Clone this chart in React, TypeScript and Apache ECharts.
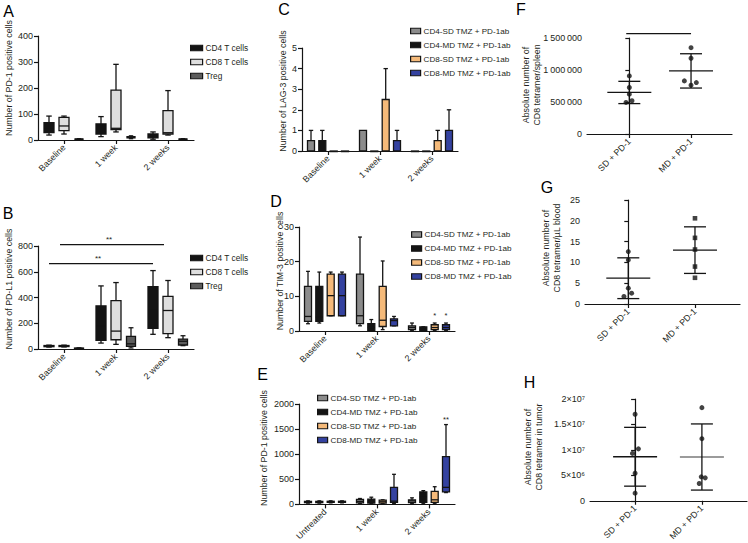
import React, { useEffect, useRef } from 'react';
import * as echarts from 'echarts';

const FONT = '"Liberation Sans", Arial, Helvetica, sans-serif';

// ---------- categories ----------
const timeCats = ['Baseline', '1 week', '2 weeks'];
const timeCatsE = ['Untreated', '1 week', '2 weeks'];
const groupCats = ['SD + PD-1', 'MD + PD-1'];

// ---------- series names ----------
const cellNames = ['CD4 T cells', 'CD8 T cells', 'Treg'];
const trtNames = ['CD4-SD TMZ + PD-1ab', 'CD4-MD TMZ + PD-1ab', 'CD8-SD TMZ + PD-1ab', 'CD8-MD TMZ + PD-1ab'];

// ---------- Panel A: boxes [cat, min, q1, median, q3, max] ----------
const aCD4 = [[0, 19, 28, 45, 67, 92], [1, 13, 23, 40, 62, 90], [2, 3, 8, 15, 23, 31]];
const aCD8 = [[0, 23, 36, 54, 87, 92], [1, 31, 40, 45, 192, 291], [2, 19, 23, 28, 113, 190]];
const aTreg = [[0, 1, 2, 3, 4, 5], [1, 5, 8, 10, 13, 16], [2, 1, 2, 3, 4, 5]];

// ---------- Panel B ----------
const bCD4 = [[0, 15, 18, 22, 27, 30], [1, 46, 67, 180, 335, 490], [2, 114, 160, 300, 485, 609]];
const bCD8 = [[0, 16, 19, 23, 27, 30], [1, 36, 72, 139, 376, 516], [2, 88, 119, 299, 408, 532]];
const bTreg = [[0, 2, 3, 5, 7, 9], [1, 8, 21, 40, 98, 165], [2, 26, 31, 60, 77, 103]];
const bSig = [[0, 2, 810], [0, 2, 663]];
const bSigLabels = ['**', '**'];

// ---------- Panel C: bars [cat, mean, mean+sd] ----------
const cCD4SD = [[0, 0.5, 1], [1, 1, 1], [2, 0, 0]];
const cCD4MD = [[0, 0.5, 1], [1, 0, 0], [2, 0, 0]];
const cCD8SD = [[0, 0, 0], [1, 2.5, 4], [2, 0.5, 1]];
const cCD8MD = [[0, 0, 0], [1, 0.5, 1], [2, 1, 2]];

// ---------- Panel D ----------
const dCD4SD = [[0, 2.1, 2.8, 4.2, 12.9, 17.2], [1, 1.5, 2.1, 4.4, 16.4, 27.1], [2, 0.2, 0.4, 1.0, 1.5, 2.3]];
const dCD4MD = [[0, 2.3, 2.8, 4.0, 12.9, 17], [1, 0, 0.1, 1, 2.1, 3.3], [2, 0.1, 0.2, 0.5, 1.2, 1.2]];
const dCD8SD = [[0, 4.4, 4.4, 10.2, 16.4, 17], [1, 0.4, 1.3, 3.1, 12.9, 20.2], [2, 0.2, 0.4, 1, 1.8, 2.3]];
const dCD8MD = [[0, 4.4, 4.4, 10.2, 16.4, 17], [1, 1.5, 1.5, 3, 3.5, 4.2], [2, 0.2, 0.4, 1, 1.8, 2.3]];
const dStars = [[2, 4.6, 2], [2, 4.6, 3]]; // [cat, y, series slot]

// ---------- Panel E ----------
const eCD4SD = [[0, 25, 35, 50, 60, 70], [1, 15, 30, 60, 100, 117], [2, 13, 33, 70, 91, 130]];
const eCD4MD = [[0, 25, 35, 50, 60, 70], [1, 13, 26, 60, 104, 143], [2, 13, 39, 150, 248, 274]];
const eCD8SD = [[0, 30, 40, 50, 62, 70], [1, 13, 26, 52, 85, 91], [2, 13, 39, 91, 261, 352]];
const eCD8MD = [[0, 30, 40, 50, 62, 70], [1, 20, 39, 65, 339, 599], [2, 235, 248, 339, 951, 1590]];
const eStars = [[2, 1700, 3]];

// ---------- Panel F (x jitter around group position) ----------
const fSDx = [0, 0, 0, -0.054, 0.043];
const fSDy = [908000, 727000, 623000, 493000, 519000];
const fMDx = [0, 0, -0.108, 0.086, 0];
const fMDy = [1349000, 1183000, 830000, 804000, 763000];
const fMean = [649000, 986000];
const fSd = [174000, 268000];
const fSig = [[-0.05, 1, 1568000]];

// ---------- Panel G ----------
const gSDx = [0, 0, 0, 0.05, -0.065];
const gSDy = [12.6, 10.6, 3.8, 2.6, 1.8];
const gMDx = [0, 0, 0, 0, 0];
const gMDy = [20.6, 15.9, 13.1, 9.0, 6.3];
const gMean = [6.2, 12.95];
const gSd = [4.9, 5.6];

// ---------- Panel H ----------
const hSDx = [0, 0.05, -0.04, 0, 0];
const hSDy = [17.0e6, 10.2e6, 9.3e6, 5.4e6, 1.5e6];
const hMDx = [0, 0, -0.01, 0.05, -0.04];
const hMDy = [18.3e6, 12.2e6, 4.7e6, 4.5e6, 3.4e6];
const hMean = [8.65e6, 8.6e6];
const hSd = [5.78e6, 6.5e6];
const hTickLabels = ['0', '5\u00d710\u2076', '1\u00d710\u2077', '1.5\u00d710\u2077', '2\u00d710\u2077'];

// ---------- colours ----------
const cellColors = ['#141414', '#dedede', '#5c5c5c'];
const trtColors = ['#8c8c8c', '#141414', '#f5ba7a', '#3442a0'];
const INK = '#141414';
const TXT = '#231f20';

const lineStyle = { stroke: INK, lineWidth: 1.3 };

function boxSeries(name: string, data: number[][], ai: number, color: string, offset: number, bw: number) {
  return {
    type: 'custom', name, xAxisIndex: ai, yAxisIndex: ai, data,
    encode: { x: 0, y: [1, 2, 3, 4, 5] },
    itemStyle: { color, borderColor: INK, borderWidth: 1.2 },
    renderItem: (params: any, api: any) => {
      const c = api.value(0);
      const x = api.coord([c, 0])[0] + offset;
      const y = (i: number) => api.coord([c, api.value(i)])[1];
      const yMin = y(1), yQ1 = y(2), yMed = y(3), yQ3 = y(4), yMax = y(5);
      const cap = bw * 0.55;
      return {
        type: 'group', children: [
          { type: 'line', shape: { x1: x, y1: yMax, x2: x, y2: yMin }, style: lineStyle },
          { type: 'line', shape: { x1: x - cap / 2, y1: yMax, x2: x + cap / 2, y2: yMax }, style: lineStyle },
          { type: 'line', shape: { x1: x - cap / 2, y1: yMin, x2: x + cap / 2, y2: yMin }, style: lineStyle },
          { type: 'rect', shape: { x: x - bw / 2, y: yQ3, width: bw, height: Math.max(yQ1 - yQ3, 0.6) }, style: { fill: color, stroke: INK, lineWidth: 1.3 } },
          { type: 'line', shape: { x1: x - bw / 2, y1: yMed, x2: x + bw / 2, y2: yMed }, style: lineStyle },
        ],
      };
    },
  };
}

function barSeries(name: string, data: number[][], ai: number, color: string, offset: number, bw: number) {
  return {
    type: 'custom', name, xAxisIndex: ai, yAxisIndex: ai, data,
    encode: { x: 0, y: [1, 2] },
    itemStyle: { color, borderColor: INK, borderWidth: 1.2 },
    renderItem: (params: any, api: any) => {
      const c = api.value(0);
      const base = api.coord([c, 0]);
      const x = base[0] + offset;
      const y0 = base[1];
      const ym = api.coord([c, api.value(1)])[1];
      const ye = api.coord([c, api.value(2)])[1];
      const children: any[] = [];
      if (ye < ym - 0.5) {
        children.push({ type: 'line', shape: { x1: x, y1: ym, x2: x, y2: ye }, style: lineStyle });
        children.push({ type: 'line', shape: { x1: x - 2.2, y1: ye, x2: x + 2.2, y2: ye }, style: lineStyle });
      }
      children.push({ type: 'rect', shape: { x: x - bw / 2, y: ym, width: bw, height: Math.max(y0 - ym, 0.6) }, style: { fill: color, stroke: INK, lineWidth: 1.3 } });
      return { type: 'group', children };
    },
  };
}

function meanSdSeries(means: number[], sds: number[], ai: number, colors: string[]) {
  return {
    type: 'custom', xAxisIndex: ai, yAxisIndex: ai, silent: true,
    data: means.map((m, i) => [i, m, sds[i]]),
    encode: { x: 0, y: 1 },
    renderItem: (params: any, api: any) => {
      const xv = api.value(0), m = api.value(1), s = api.value(2);
      const pm = api.coord([xv, m]);
      const yt = api.coord([xv, m + s])[1];
      const yb = api.coord([xv, m - s])[1];
      const x = pm[0];
      const mw = 22, cw = 11;
      const st = { stroke: colors[params.dataIndex] || INK, lineWidth: 1.3 };
      return {
        type: 'group', children: [
          { type: 'line', shape: { x1: x - mw, y1: pm[1], x2: x + mw, y2: pm[1] }, style: st },
          { type: 'line', shape: { x1: x, y1: yt, x2: x, y2: yb }, style: lineStyle },
          { type: 'line', shape: { x1: x - cw, y1: yt, x2: x + cw, y2: yt }, style: lineStyle },
          { type: 'line', shape: { x1: x - cw, y1: yb, x2: x + cw, y2: yb }, style: lineStyle },
        ],
      };
    },
  };
}

function scatterSeries(group: number, jitter: number[], ys: number[], ai: number, symbol: string) {
  return {
    type: 'scatter', xAxisIndex: ai, yAxisIndex: ai, symbol, symbolSize: symbol === 'rect' ? 4.6 : 5,
    itemStyle: { color: INK }, silent: true,
    data: jitter.map((j, i) => [group + j, ys[i]]),
  };
}

function sigLineSeries(data: number[][], labels: string[], ai: number, offsets: number[]) {
  return {
    type: 'custom', xAxisIndex: ai, yAxisIndex: ai, silent: true, data,
    encode: { x: [0, 1], y: 2 },
    renderItem: (params: any, api: any) => {
      const i = params.dataIndex;
      const p1 = api.coord([api.value(0), api.value(2)]);
      const p2 = api.coord([api.value(1), api.value(2)]);
      const off = offsets[i] || 0;
      const x1 = p1[0] + off, x2 = p2[0] + off;
      const children: any[] = [
        { type: 'line', shape: { x1, y1: p1[1], x2, y2: p1[1] }, style: { stroke: INK, lineWidth: 1.3 } },
      ];
      if (labels[i]) {
        children.push({ type: 'text', x: (x1 + x2) / 2 - 3, y: p1[1] - 1, style: { text: labels[i], fill: TXT, fontSize: 8, fontFamily: FONT, align: 'center', verticalAlign: 'bottom' } });
      }
      return { type: 'group', children };
    },
  };
}

function starSeries(data: number[][], label: string, ai: number, slotOffsets: number[]) {
  return {
    type: 'custom', xAxisIndex: ai, yAxisIndex: ai, silent: true, data,
    encode: { x: 0, y: 1 },
    renderItem: (params: any, api: any) => {
      const p = api.coord([api.value(0), api.value(1)]);
      const x = p[0] + slotOffsets[api.value(2)];
      return { type: 'text', x, y: p[1], style: { text: label, fill: TXT, fontSize: 7.5, fontFamily: FONT, align: 'center', verticalAlign: 'middle' } };
    },
  };
}

const axisLineCfg = { show: true, lineStyle: { color: INK, width: 1.2 } };
const axisTickCfg = { show: true, length: 4, lineStyle: { color: INK, width: 1.2 } };

function catX(ai: number, cats: string[]) {
  return {
    type: 'category', gridIndex: ai, data: cats, boundaryGap: true,
    axisLine: axisLineCfg,
    axisTick: { ...axisTickCfg, alignWithLabel: true },
    axisLabel: { rotate: 45, fontSize: 8.8, color: TXT, fontFamily: FONT, margin: 6, interval: 0 },
    splitLine: { show: false },
  };
}

function valX(ai: number, min: number, max: number) {
  return {
    type: 'value', gridIndex: ai, min, max,
    axisLine: axisLineCfg,
    axisTick: { ...axisTickCfg, customValues: [0, 1] },
    axisLabel: { rotate: 45, fontSize: 8.8, color: TXT, fontFamily: FONT, margin: 6, customValues: [0, 1], formatter: (v: number) => groupCats[Math.round(v)] },
    splitLine: { show: false },
  };
}

const plain = (v: number) => String(v);

function valY(ai: number, max: number, interval: number, formatter: any = plain) {
  return {
    type: 'value', gridIndex: ai, min: 0, max, interval,
    axisLine: axisLineCfg,
    axisTick: axisTickCfg,
    axisLabel: { fontSize: 9, color: TXT, fontFamily: FONT, margin: 5, formatter },
    splitLine: { show: false },
  };
}

function legendCfg(left: number, top: number, names: string[], colors: string[], iw: number, fs: number) {
  return {
    left, top, orient: 'vertical', itemWidth: iw, itemHeight: 5.5, itemGap: 4, selectedMode: false,
    icon: 'rect',
    textStyle: { fontSize: fs, color: TXT, fontFamily: FONT, lineHeight: 10, padding: [0, 0, 0, -2] },
    data: names.map((n, i) => ({ name: n, icon: 'rect', itemStyle: { color: colors[i], borderColor: INK, borderWidth: 1.2 } })),
  };
}

function vText(x: number, y: number, text: string) {
  return {
    type: 'text', x, y, rotation: Math.PI / 2,
    style: { text, fill: TXT, fontSize: 8.8, fontFamily: FONT, align: 'center', verticalAlign: 'middle', lineHeight: 11 },
  };
}
function letter(x: number, y: number, text: string) {
  return { type: 'text', x, y, style: { text, fill: '#000', fontSize: 16, fontFamily: FONT, align: 'center', verticalAlign: 'middle' } };
}

const fmtSpaced = (v: number) => String(v).replace(/\B(?=(\d{3})+(?!\d))/g, '\u2009');

export default function App() {
  const ref = useRef<HTMLDivElement>(null);
  useEffect(() => {
    if (!ref.current) return;
    const chart = echarts.init(ref.current, undefined, { renderer: 'svg' });
    const off3 = [-15, 0, 15];
    const off4 = [-17, -5.7, 5.7, 17];
    const option: any = {
      animation: false,
      textStyle: { fontFamily: FONT },
      grid: [
        { left: 38, top: 36, width: 156, height: 104 },
        { left: 38, top: 246, width: 156, height: 103 },
        { left: 302, top: 48, width: 156, height: 103 },
        { left: 299, top: 227, width: 156, height: 104 },
        { left: 299, top: 404, width: 156, height: 103 },
        { left: 587, top: 38, width: 145, height: 96 },
        { left: 585, top: 200, width: 155, height: 104 },
        { left: 590, top: 399, width: 157, height: 103 },
      ],
      xAxis: [
        catX(0, timeCats), catX(1, timeCats), catX(2, timeCats), catX(3, timeCats), catX(4, timeCatsE),
        valX(5, -0.686, 1.664), valX(6, -0.649, 1.675), valX(7, -0.675, 1.675),
      ],
      yAxis: [
        valY(0, 400, 100), valY(1, 800, 200), valY(2, 5, 1), valY(3, 30, 10), valY(4, 2000, 500),
        valY(5, 1500000, 500000, fmtSpaced), valY(6, 25, 5), valY(7, 2e7, 5e6, (v: number) => hTickLabels[Math.round(v / 5e6)]),
      ],
      legend: [
        legendCfg(185, 38, cellNames, cellColors, 12, 8.3),
        legendCfg(185, 248, cellNames, cellColors, 12, 8.3),
        legendCfg(405, 21, trtNames, trtColors, 10, 8.1),
        legendCfg(406, 224.5, trtNames, trtColors, 10, 8.1),
        legendCfg(312, 388, trtNames, trtColors, 10, 8.1),
      ],
      series: [
        boxSeries(cellNames[0], aCD4, 0, cellColors[0], off3[0], 10),
        boxSeries(cellNames[1], aCD8, 0, cellColors[1], off3[1], 10),
        boxSeries(cellNames[2], aTreg, 0, cellColors[2], off3[2], 8),
        boxSeries(cellNames[0], bCD4, 1, cellColors[0], off3[0], 10),
        boxSeries(cellNames[1], bCD8, 1, cellColors[1], off3[1], 10),
        boxSeries(cellNames[2], bTreg, 1, cellColors[2], off3[2], 9),
        sigLineSeries(bSig, bSigLabels, 1, [-4, -15]),
        barSeries(trtNames[0], cCD4SD, 2, trtColors[0], off4[0], 7),
        barSeries(trtNames[1], cCD4MD, 2, trtColors[1], off4[1], 7),
        barSeries(trtNames[2], cCD8SD, 2, trtColors[2], off4[2], 7),
        barSeries(trtNames[3], cCD8MD, 2, trtColors[3], off4[3], 7),
        boxSeries(trtNames[0], dCD4SD, 3, trtColors[0], off4[0], 7),
        boxSeries(trtNames[1], dCD4MD, 3, trtColors[1], off4[1], 7),
        boxSeries(trtNames[2], dCD8SD, 3, trtColors[2], off4[2], 7),
        boxSeries(trtNames[3], dCD8MD, 3, trtColors[3], off4[3], 7),
        starSeries(dStars, '*', 3, off4),
        boxSeries(trtNames[0], eCD4SD, 4, trtColors[0], off4[0], 7),
        boxSeries(trtNames[1], eCD4MD, 4, trtColors[1], off4[1], 7),
        boxSeries(trtNames[2], eCD8SD, 4, trtColors[2], off4[2], 7),
        boxSeries(trtNames[3], eCD8MD, 4, trtColors[3], off4[3], 7),
        starSeries(eStars, '**', 4, off4),
        scatterSeries(0, fSDx, fSDy, 5, 'circle'),
        scatterSeries(1, fMDx, fMDy, 5, 'circle'),
        meanSdSeries(fMean, fSd, 5, [INK, INK]),
        sigLineSeries(fSig, [''], 5, [0]),
        scatterSeries(0, gSDx, gSDy, 6, 'circle'),
        scatterSeries(1, gMDx, gMDy, 6, 'rect'),
        meanSdSeries(gMean, gSd, 6, [INK, INK]),
        scatterSeries(0, hSDx, hSDy, 7, 'circle'),
        scatterSeries(1, hMDx, hMDy, 7, 'circle'),
        meanSdSeries(hMean, hSd, 7, [INK, '#7a7a7a']),
      ],
      graphic: [
        letter(8.5, 11, 'A'), letter(8, 213.5, 'B'), letter(284, 9.5, 'C'), letter(276, 201, 'D'),
        letter(262.5, 374, 'E'), letter(521, 9, 'F'), letter(547, 187.5, 'G'), letter(529.5, 382.5, 'H'),
        vText(9, 78, 'Number of PD-1 positive cells'),
        vText(9, 289, 'Number of PD-L1 positive cells'),
        vText(283, 91, 'Number of LAG-3 positive cells'),
        vText(279.5, 271, 'Number of TIM-3 positive cells'),
        vText(263.5, 448, 'Number of PD-1 positive cells'),
        vText(531.5, 85, 'Absolute number of\nCD8 tetramer/spleen'),
        vText(551, 248, 'Absolute number of\nCD8 tetramer/\u00b5L blood'),
        vText(533.5, 447, 'Absolute number of\nCD8 tetramer in tumor'),
      ],
    };
    chart.setOption(option);
    return () => chart.dispose();
  }, []);
  return <div ref={ref} style={{ position: 'absolute', left: 0, top: 0, width: 748, height: 543, background: '#fff' }} />;
}
